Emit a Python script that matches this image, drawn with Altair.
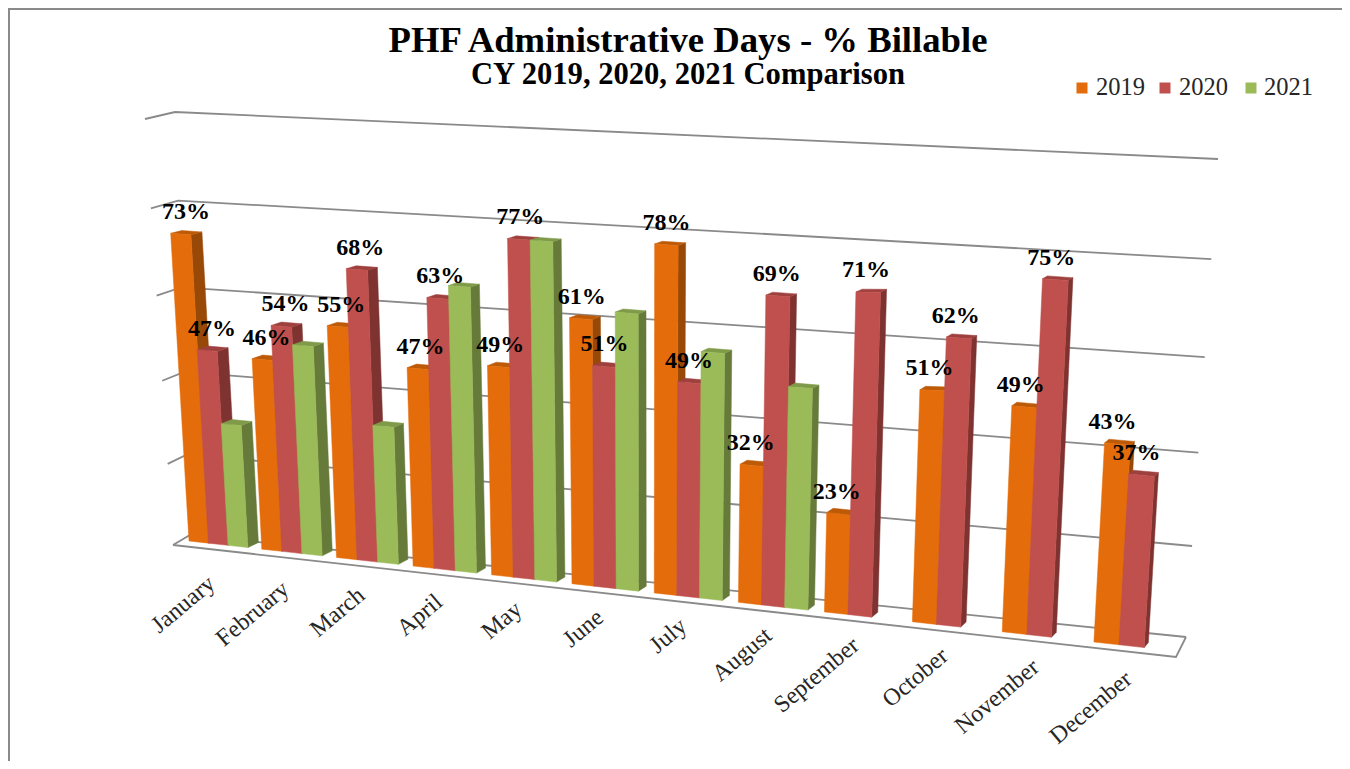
import altair as alt
import pandas as pd

months = ["January", "February", "March", "April", "May", "June", "July",
          "August", "September", "October", "November", "December"]
v2019 = [73, 46, 55, 47, 49, 61, 78, 32, 23, 51, 49, 43]
v2020 = [47, 54, 68, 63, 77, 51, 49, 69, 71, 62, 75, 37]
v2021 = [30, 50, 33, 66, 77, 63, 56, 50, None, None, None, None]
series_names = ["2019", "2020", "2021"]
levels = [0, 20, 40, 60, 80, 100]

front = {"2019": "#E46C0A", "2020": "#C0504D", "2021": "#9BBB59"}
side = {"2019": "#984807", "2020": "#7F3331", "2021": "#667A3A"}
top = {"2019": "#BD5A08", "2020": "#9E403E", "2021": "#7F9A49"}
grid_color = "#8A8A8A"
serif = "Liberation Serif"


def bx(u):
    return 189 + 71.87 * u + 0.945 * u * u


def by(x):
    return 541 + 0.1116 * (x - 189)


def project(u, v):
    x = bx(u)
    base = 4.12 + 0.0005 * (x - 189) + 0.09 * min(max((x - 850) / 90, 0), 1)
    h = base * (1 + 0.1 * (v / 100 - 0.5))
    return x + v * (x - 645) * 0.00055, by(x) - v * h


def depth(pt, v):
    x, y = pt
    return x + 11 - 0.0072 * (x - 189), y - 5 + 0.03 * v


def wall(p0, p1, level):
    t = level / 100
    t = 0.94 * t + 0.06 * t * t
    return p0[0] + (p1[0] - p0[0]) * t, p0[1] + (p1[1] - p0[1]) * t


faces, labels, names = [], [], []


def add_face(pts, color):
    fid = len(names)
    names.append(fid)
    for k, (x, y) in enumerate(pts + pts[:1]):
        faces.append({"x": x, "y": y, "id": fid, "k": k, "c": color})


BAR = 0.27
for i, month in enumerate(months):
    for j, (s, vals) in enumerate(zip(series_names, (v2019, v2020, v2021))):
        v = vals[i]
        if v is None:
            continue
        u0, u1 = i + j * BAR, i + (j + 1) * BAR
        a, b = project(u0, 0), project(u1, 0)
        c, d = project(u1, v), project(u0, v)
        add_face([b, depth(b, 0), depth(c, v), c], side[s])
        add_face([d, c, depth(c, v), depth(d, v)], top[s])
        add_face([a, b, c, d], front[s])
        if s != "2021":
            cx = (c[0] + d[0]) / 2
            labels.append({"x": cx + 5 - (cx - 189) * 0.0105,
                           "y": (c[1] + d[1]) / 2 - 22, "t": f"{v}%"})

# walls and floor
lines = []
LF0, LF1 = (173, 545), (145, 119)
LB0, LB1 = (190, 535), (175, 112)
RB0, RB1 = (1186, 637), (1218, 159)
for lv in levels:
    for k, pt in enumerate([wall(LF0, LF1, lv), wall(LB0, LB1, lv), wall(RB0, RB1, lv)]):
        lines.append({"x": pt[0], "y": pt[1], "id": f"l{lv}", "k": k})
for k, pt in enumerate([LF0, (1176, 657), RB0]):
    lines.append({"x": pt[0], "y": pt[1], "id": "floor", "k": k})
frame = [{"x": 9, "y": 761, "id": "f", "k": 0}, {"x": 9, "y": 9, "id": "f", "k": 1},
         {"x": 1342, "y": 9, "id": "f", "k": 2}]

month_labels = []
for i, m in enumerate(months):
    mx = bx(i + 0.4)
    t = (i + 0.5) / 12
    month_labels.append({"x": mx - 6 + 0.004 * (mx - 189),
                         "y": by(mx) + 38 - 0.007 * (mx - 189) - 32 * t * (1 - t),
                         "t": m})

X = alt.X("x:Q", scale=alt.Scale(domain=[8, 1342], nice=False, zero=False), axis=None)
Y = alt.Y("y:Q", scale=alt.Scale(domain=[8, 761], reverse=True, nice=False, zero=False), axis=None)

grid = alt.Chart(pd.DataFrame(lines)).mark_line(color=grid_color, strokeWidth=1.8).encode(
    x=X, y=Y, detail="id:N", order="k:Q")
border = alt.Chart(pd.DataFrame(frame)).mark_line(color="#8A8A8A", strokeWidth=2).encode(
    x=X, y=Y, detail="id:N", order="k:Q")
bars = alt.Chart(pd.DataFrame(faces)).mark_line(strokeWidth=0.5).encode(
    x=X, y=Y, detail="id:Q", order="k:Q",
    color=alt.Color("c:N", scale=None, legend=None),
    fill=alt.Fill("c:N", scale=None, legend=None))
value_text = alt.Chart(pd.DataFrame(labels)).mark_text(
    font=serif, fontSize=24, fontWeight="bold", color="#000000").encode(x=X, y=Y, text="t:N")
month_text = alt.Chart(pd.DataFrame(month_labels)).mark_text(
    font=serif, fontSize=24, color="#262626", angle=320, align="right", baseline="middle"
).encode(x=X, y=Y, text="t:N")
title1 = alt.Chart(pd.DataFrame([{"x": 688, "y": 41, "t": "PHF Administrative Days - % Billable"}])).mark_text(
    font=serif, fontSize=36.7, fontWeight="bold", color="#000000").encode(x=X, y=Y, text="t:N")
title2 = alt.Chart(pd.DataFrame([{"x": 688, "y": 75, "t": "CY 2019, 2020, 2021 Comparison"}])).mark_text(
    font=serif, fontSize=30.6, fontWeight="bold", color="#000000").encode(x=X, y=Y, text="t:N")
legend_df = pd.DataFrame({"x": [1082, 1165, 1251], "tx": [1096, 1179, 1264], "y": [88, 88, 88],
                          "t": series_names, "c": [front[s] for s in series_names]})
legend_sw = alt.Chart(legend_df).mark_square(size=121, opacity=1).encode(
    x=X, y=Y, color=alt.Color("c:N", scale=None, legend=None))
legend_tx = alt.Chart(legend_df).mark_text(font=serif, fontSize=24.5, align="left", color="#262626").encode(
    x=alt.X("tx:Q", scale=alt.Scale(domain=[8, 1342], nice=False, zero=False), axis=None), y=Y, text="t:N")

chart = alt.layer(border, grid, bars, value_text, month_text, title1, title2, legend_sw, legend_tx).properties(
    width=1334, height=753, background="#FFFFFF", padding=0,
    autosize=alt.AutoSizeParams(type="none")
).configure_view(stroke=None)

chart.save("out.html", embed_options={"renderer": "svg", "actions": False})
